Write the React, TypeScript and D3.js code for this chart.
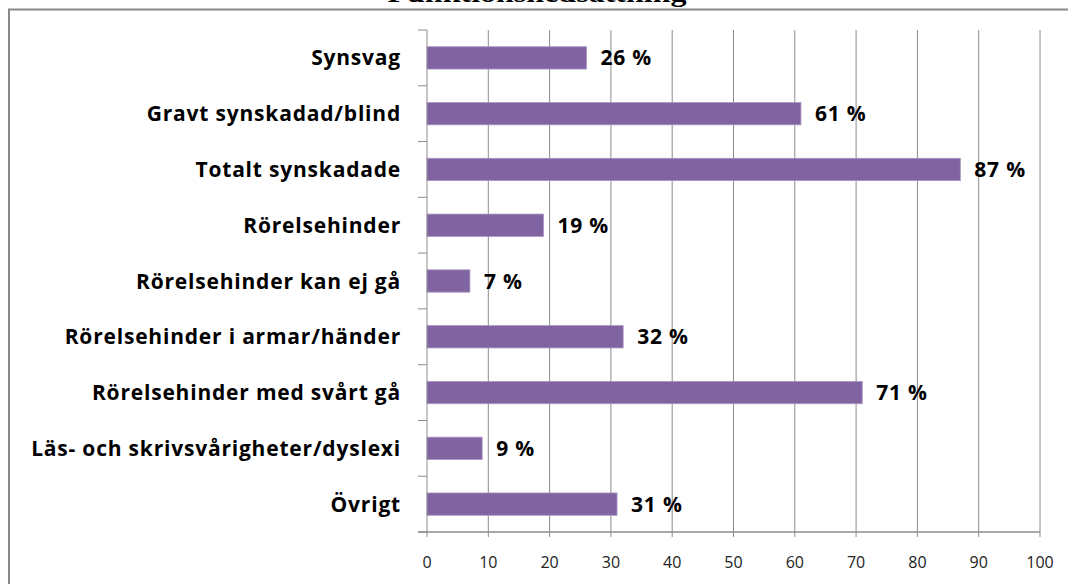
import React from "react";
import * as d3 from "d3";

const categories = [
  "Synsvag",
  "Gravt synskadad/blind",
  "Totalt synskadade",
  "Rörelsehinder",
  "Rörelsehinder kan ej gå",
  "Rörelsehinder i armar/händer",
  "Rörelsehinder med svårt gå",
  "Läs- och skrivsvårigheter/dyslexi",
  "Övrigt",
];
const values = [26, 61, 87, 19, 7, 32, 71, 9, 31];
const xTicks = [0, 10, 20, 30, 40, 50, 60, 70, 80, 90, 100];
const title = "Funktionsnedsättning";

const W = 1068;
const H = 584;
const plot = { left: 427, right: 1040, top: 30, bottom: 532 };
const GRID = "#8c8c8c";
const BAR = "#8064A2";
const LABEL_FONT = "'Open Sans', 'Noto Sans', sans-serif";
const TICK_FONT = "'Open Sans', Lato, sans-serif";

export default function App() {
  const x = d3.scaleLinear().domain([0, 100]).range([plot.left, plot.right]);
  const y = d3
    .scaleBand<string>()
    .domain(categories)
    .range([plot.top, plot.bottom])
    .paddingInner(0.6)
    .paddingOuter(0.3);
  const boundaries = d3
    .range(categories.length + 1)
    .map((i) => plot.top + i * ((plot.bottom - plot.top) / categories.length));

  return (
    <svg
      width={W}
      height={H}
      style={{ position: "absolute", left: 0, top: 0, background: "#fff" }}
    >
      <rect x={0} y={0} width={W} height={H} fill="#fff" />
      <text
        x={537}
        y={1.5}
        textAnchor="middle"
        fontFamily="'Liberation Serif', 'Times New Roman', serif"
        fontWeight="bold"
        fontSize={26}
        textLength={299}
        lengthAdjust="spacingAndGlyphs"
        fill="#000"
      >
        {title}
      </text>
      <rect x={9} y={9.5} width={W + 20} height={H + 20} fill="none" stroke="#888" strokeWidth={2} />

      {/* vertical gridlines */}
      {xTicks.slice(1).map((t) => (
        <line key={"g" + t} x1={x(t)} x2={x(t)} y1={plot.top} y2={plot.bottom} stroke={GRID} strokeWidth={1} />
      ))}

      {/* bars */}
      {categories.map((c, i) => (
        <rect
          key={c}
          x={x(0)}
          y={y(c)!}
          width={x(values[i]) - x(0)}
          height={y.bandwidth()}
          fill={BAR}
          stroke="#a894c2"
          strokeWidth={0.8}
        />
      ))}

      {/* category axis */}
      <line x1={x(0)} x2={x(0)} y1={plot.top} y2={plot.bottom} stroke={GRID} strokeWidth={1} />
      {boundaries.map((b, i) => (
        <line key={"ct" + i} x1={x(0) - 9} x2={x(0)} y1={b} y2={b} stroke={GRID} strokeWidth={1} />
      ))}
      {/* value axis */}
      <line x1={x(0) - 9} x2={x(100)} y1={plot.bottom} y2={plot.bottom} stroke={GRID} strokeWidth={1.5} />
      {xTicks.map((t) => (
        <line key={"vt" + t} x1={x(t)} x2={x(t)} y1={plot.bottom} y2={plot.bottom + 5} stroke={GRID} strokeWidth={1} />
      ))}
      {xTicks.map((t) => (
        <text
          key={"vl" + t}
          x={x(t)}
          y={plot.bottom + 36}
          textAnchor="middle"
          fontFamily={TICK_FONT}
          fontSize={16}
          fill="#222"
        >
          {t}
        </text>
      ))}

      {/* category labels */}
      {categories.map((c) => (
        <text
          key={"cl" + c}
          x={401}
          y={y(c)! + y.bandwidth() / 2}
          dy="0.36em"
          textAnchor="end"
          fontFamily={LABEL_FONT}
          fontWeight="bold"
          fontSize={21}
          letterSpacing={0.8}
          fill="#000"
        >
          {c}
        </text>
      ))}

      {/* value labels */}
      {categories.map((c, i) => (
        <text
          key={"dl" + c}
          x={x(values[i]) + 14}
          y={y(c)! + y.bandwidth() / 2}
          dy="0.36em"
          fontFamily={LABEL_FONT}
          fontWeight="bold"
          fontSize={21}
          letterSpacing={0.8}
          fill="#000"
        >
          {values[i] + " %"}
        </text>
      ))}
    </svg>
  );
}
